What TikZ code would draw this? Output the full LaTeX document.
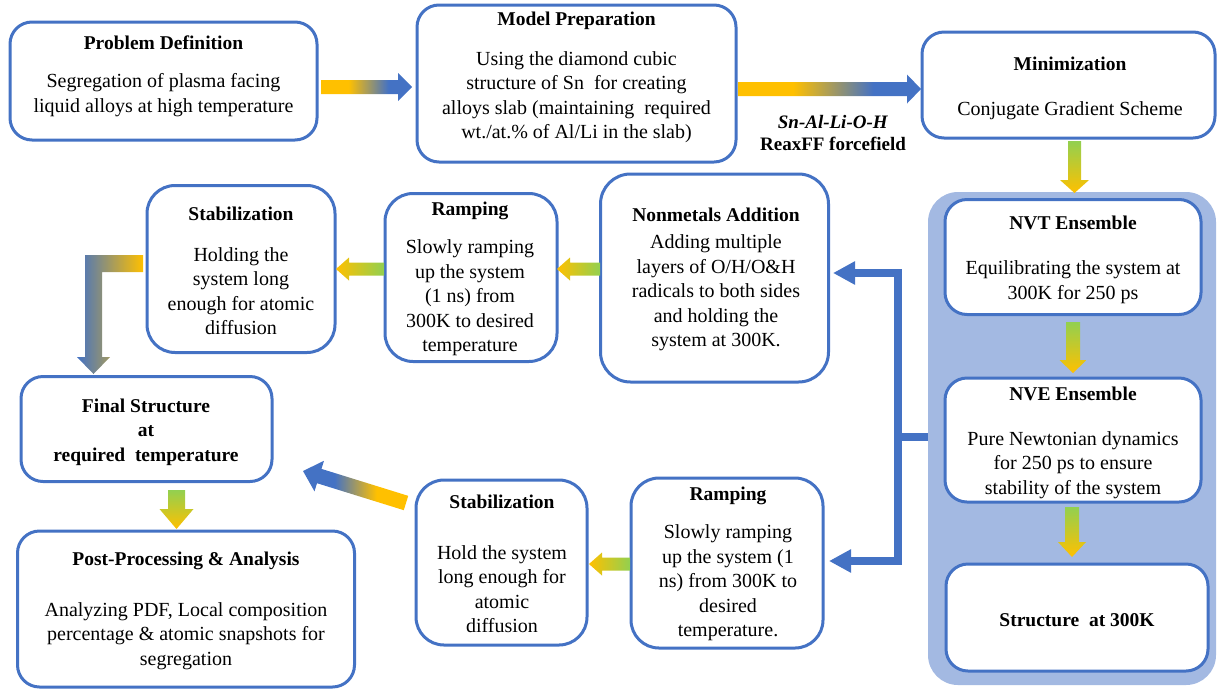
\documentclass[tikz,border=0pt]{standalone}
\usepackage{fontspec}
\setmainfont{Liberation Serif}
\usetikzlibrary{calc,arrows.meta}
\definecolor{bluA}{HTML}{4472C4}
\definecolor{ylwA}{HTML}{FFC000}
\definecolor{grnA}{HTML}{92D050}
\definecolor{panelA}{HTML}{A3B9E2}
\pgfdeclarehorizontalshading{ybshade}{100bp}{color(0bp)=(ylwA); color(25bp)=(ylwA); color(40bp)=(ylwA); color(62bp)=(bluA); color(75bp)=(bluA); color(100bp)=(bluA)}
\pgfdeclarehorizontalshading{byshade}{100bp}{color(0bp)=(bluA); color(25bp)=(bluA); color(40bp)=(bluA); color(60bp)=(ylwA); color(75bp)=(ylwA); color(100bp)=(ylwA)}
% #1 shading options, #2 start, #3 end, #4 shaft half width, #5 head half width, #6 head length
\newcommand{\BlkArrow}[6]{%
  \coordinate (ba-b) at ($(#3)!#6!(#2)$);
  \shade[#1] ($(#2)!#4!90:(#3)$) -- ($(ba-b)!#4!90:(#3)$) -- ($(ba-b)!#5!90:(#3)$) -- (#3)
     -- ($(ba-b)!#5!-90:(#3)$) -- ($(ba-b)!#4!-90:(#3)$) -- ($(#2)!#4!-90:(#3)$) -- cycle;
}
\begin{document}
\begin{tikzpicture}[x=1pt,y=-1pt,
  box/.style={draw=bluA, line width=3pt, rounded corners=22pt, fill=white, inner sep=0pt, outer sep=0pt},
  ttl/.style={font=\fontsize{19.5}{23}\selectfont\bfseries, inner sep=0pt, align=center},
  txt/.style={font=\fontsize{20}{24.5}\selectfont, inner sep=0pt, align=center},
  btxt/.style={font=\fontsize{19.5}{24.5}\selectfont\bfseries, inner sep=0pt, align=center},
  conn/.style={draw=bluA, line width=8pt, line join=miter},
  gy/.style={shading=ybshade},
  gg/.style={top color=grnA, bottom color=ylwA},
  gl/.style={left color=ylwA, right color=grnA},
  gb/.style={shading=byshade},
  gbent/.style={left color=bluA, right color=ylwA}
]
\useasboundingbox (0,0) rectangle (1217,689);

% background panel
\node[fill=panelA, rounded corners=30pt, minimum width=288, minimum height=493, inner sep=0pt] (panel) at (1072,438.5) {};

% top row
\node[box, minimum width=307, minimum height=118] (pd) at (163.5,81) {};
\node[ttl] (pdT) at (163.5,43) {Problem Definition};
\node[txt] (pdB) at (163.5,95) {Segregation of plasma facing\\liquid alloys at high temperature};

\node[box, minimum width=319, minimum height=157] (mp) at (576.5,83.5) {};
\node[ttl] (mpT) at (576.5,21) {Model Preparation};
\node[txt] (mpB) at (576.5,97) {Using the diamond cubic\\structure of Sn\ \ for creating\\alloys slab (maintaining\ \ required\\wt./at.\% of Al/Li in the slab)};

\node[box, minimum width=293, minimum height=106] (mn) at (1068.5,85) {};
\node[ttl] (mnT) at (1070,64) {Minimization};
\node[txt] (mnB) at (1070,111) {Conjugate Gradient Scheme};

\node[font=\fontsize{19}{22}\selectfont\bfseries, align=center, inner sep=0pt] (lbl) at (833,133) {\textit{Sn-Al-Li-O-H}\\ReaxFF forcefield};

% panel boxes
\node[box, minimum width=256, minimum height=115] (nvt) at (1073,257) {};
\node[ttl] (nvtT) at (1073,223) {NVT Ensemble};
\node[txt] (nvtB) at (1073,282) {Equilibrating the system at\\300K for 250 ps};

\node[box, minimum width=256, minimum height=124] (nve) at (1073,440) {};
\node[ttl] (nveT) at (1073,394) {NVE Ensemble};
\node[txt] (nveB) at (1073,465) {Pure Newtonian dynamics\\for 250 ps to ensure\\stability of the system};

\node[box, minimum width=262, minimum height=107] (s300) at (1077,617.5) {};
\node[ttl] (s300T) at (1077,620) {Structure\ \ at 300K};

% middle row
\node[box, minimum width=228, minimum height=208, rounded corners=30pt] (nm) at (714.5,278) {};
\node[ttl] (nmT) at (716,215) {Nonmetals Addition};
\node[txt] (nmB) at (716,293) {Adding multiple\\layers of O/H/O\&H\\radicals to both sides\\and holding the\\system at 300K.};

\node[box, minimum width=172, minimum height=168, rounded corners=28pt] (rp1) at (471,277.5) {};
\node[ttl] (rp1T) at (470,211) {Ramping};
\node[txt] (rp1B) at (470,298) {Slowly ramping\\up the system\\(1 ns) from\\300K to desired\\temperature};

\node[box, minimum width=188, minimum height=167, rounded corners=28pt] (st1) at (241,269) {};
\node[ttl] (st1T) at (241,214) {Stabilization};
\node[txt] (st1B) at (241,291) {Holding the\\system long\\enough for atomic\\diffusion};

\node[box, minimum width=251, minimum height=105] (fs) at (146.5,429) {};
\node[btxt] (fsT) at (146,432) {Final Structure\\at\\required\ \ temperature};

% bottom row
\node[box, minimum width=337, minimum height=156] (pp) at (186,609) {};
\node[ttl] (ppT) at (186,561) {Post-Processing \& Analysis};
\node[txt] (ppB) at (186,636) {Analyzing PDF, Local composition\\percentage \& atomic snapshots for\\segregation};

\node[box, minimum width=171, minimum height=165, rounded corners=28pt] (st2) at (501.5,562.5) {};
\node[ttl] (st2T) at (502,502) {Stabilization};
\node[txt] (st2B) at (502,589) {Hold the system\\long enough for\\atomic\\diffusion};

\node[box, minimum width=192, minimum height=170, rounded corners=28pt] (rp2) at (727,563) {};
\node[ttl] (rp2T) at (728,496) {Ramping};
\node[txt] (rp2B) at (728,583) {Slowly ramping\\up the system (1\\ns) from 300K to\\desired\\temperature.};

% block arrows
\coordinate (a1s) at (321,87);   \coordinate (a1e) at (412,87);
\BlkArrow{gy}{a1s}{a1e}{7pt}{14pt}{14pt}
\coordinate (a2s) at (738,89);   \coordinate (a2e) at (921,89);
\BlkArrow{gy}{a2s}{a2e}{7pt}{14.5pt}{14pt}
\coordinate (a3s) at (1074.5,141); \coordinate (a3e) at (1074.5,193);
\BlkArrow{gg}{a3s}{a3e}{6.5pt}{14.5pt}{13pt}
\coordinate (a4s) at (1073,322); \coordinate (a4e) at (1073,373);
\BlkArrow{gg}{a4s}{a4e}{7pt}{13.5pt}{13pt}
\coordinate (a5s) at (1072,507); \coordinate (a5e) at (1072,557);
\BlkArrow{gg}{a5s}{a5e}{7pt}{14pt}{15pt}
\coordinate (a6s) at (600,269);  \coordinate (a6e) at (557,269);
\BlkArrow{gl}{a6s}{a6e}{6.5pt}{11.5pt}{13pt}
\coordinate (a7s) at (384,269);  \coordinate (a7e) at (336,269);
\BlkArrow{gl}{a7s}{a7e}{6.5pt}{11.5pt}{13pt}
\coordinate (a8s) at (176.5,490); \coordinate (a8e) at (176.5,529);
\BlkArrow{gg}{a8s}{a8e}{8.5pt}{17pt}{20pt}
\coordinate (a9s) at (630,564);  \coordinate (a9e) at (589,564);
\BlkArrow{gl}{a9s}{a9e}{6.5pt}{11.5pt}{13pt}
\coordinate (a10s) at (406,503); \coordinate (a10e) at (303,471);
\BlkArrow{gb}{a10s}{a10e}{7.5pt}{16pt}{17pt}

% bent arrow from st1 to fs
\shade[gbent] (143,255) -- (85,255) -- (85,357) -- (77,357) -- (93.5,374) -- (110,357) -- (102,357) -- (102,272) -- (143,272) -- cycle;

% blue connector
\coordinate (jn) at (898,437);
\coordinate (nmin) at (833,273);
\coordinate (rp2in) at (829,561);
\draw[conn] (panel.west |- jn) -- (jn);
\draw[conn, -{Triangle[length=22pt,width=22pt]}] (jn) |- (nmin);
\draw[conn, -{Triangle[length=22pt,width=22pt]}] (jn) |- (rp2in);
\end{tikzpicture}
\end{document}
